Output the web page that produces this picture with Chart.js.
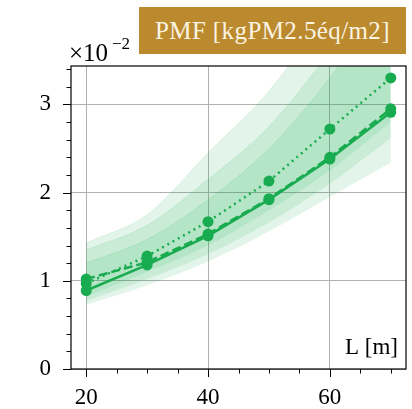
<!DOCTYPE html>
<html lang="fr">
<head>
    <meta charset="UTF-8">
    <title>PMF</title>
    <style>
        body {
            margin: 0;
            background: #ffffff;
        }
        .wrap {
            position: relative;
            width: 412px;
            height: 409px;
        }
        .titre {
            position: absolute;
            left: 139px;
            top: 7px;
            width: 267px;
            height: 47px;
            background-color: #bb8a2f;
            color: #fbf4e2;
            font-family: "Liberation Serif", serif;
            font-size: 25px;
            line-height: 47px;
            text-align: center;
            letter-spacing: 0.4px;
        }
    </style>
</head>
<body>
    <div class="wrap">
        <canvas id="graficoPMF" width="412" height="409"></canvas>
        <div class="titre">PMF [kgPM2.5éq/m2]</div>
    </div>

    <script src="https://cdn.jsdelivr.net/npm/chart.js"></script>
    <script>
        // valeurs en unités de 1e-2
        const longueurs = [20, 30, 40, 50, 60, 70];
        const serieContinue = [0.89, 1.18, 1.51, 1.92, 2.38, 2.91];
        const serieTirets = [1.02, 1.21, 1.53, 1.93, 2.40, 2.95];
        const seriePointillee = [0.97, 1.28, 1.67, 2.13, 2.72, 3.30];

        const basContinue = [0.73, 0.95, 1.22, 1.56, 1.95, 2.34];
        const hautContinue = [1.20, 1.47, 1.92, 2.50, 3.30, 4.30];
        const basTirets = [0.77, 1.02, 1.30, 1.66, 2.10, 2.62];
        const hautTirets = [1.35, 1.63, 2.15, 2.75, 3.60, 4.60];
        const basPointillee = [0.82, 1.10, 1.40, 1.80, 2.25, 2.80];
        const hautPointillee = [1.43, 1.75, 2.45, 3.15, 4.10, 5.20];

        const ticksX = [20, 25, 30, 35, 40, 45, 50, 55, 60, 65, 70];
        const ticksY = [0, 0.2, 0.4, 0.6, 0.8, 1, 1.2, 1.4, 1.6, 1.8, 2, 2.2, 2.4, 2.6, 2.8, 3, 3.2, 3.4];
        const majeursX = [20, 40, 60];
        const majeursY = [0, 1, 2, 3];

        const vert = '#19ab4f';
        const vertBande = 'rgba(25, 171, 79, 0.12)';
        const police = '"Liberation Serif", serif';

        const pts = vals => vals.map((v, i) => ({ x: longueurs[i], y: v }));

        function bande(bas, haut) {
            return [
                { data: pts(bas), borderWidth: 0, pointRadius: 0, fill: false, order: 10,
                  cubicInterpolationMode: 'monotone' },
                { data: pts(haut), borderWidth: 1, borderColor: vertBande, backgroundColor: vertBande,
                  pointRadius: 0, fill: '-1', order: 10, cubicInterpolationMode: 'monotone' }
            ];
        }

        function ligne(vals, tirets) {
            return {
                data: pts(vals), borderColor: vert, borderWidth: 2.5, borderDash: tirets,
                pointRadius: 5.5, pointBackgroundColor: vert, pointBorderWidth: 0,
                fill: false, order: 0
            };
        }

        const majeur = (v, liste) => liste.some(m => Math.abs(m - v) < 1e-6);

        // ticks, cadre et textes dans le graphique
        const decor = {
            id: 'decor',
            afterDraw(chart) {
                const ctx = chart.ctx;
                const a = chart.chartArea;
                const sx = chart.scales.x;
                const sy = chart.scales.y;
                ctx.save();
                ctx.strokeStyle = '#000';
                ctx.lineWidth = 1.2;
                ctx.strokeRect(a.left, a.top, a.right - a.left, a.bottom - a.top);
                ctx.lineWidth = 1;
                ctx.beginPath();
                ticksX.forEach(v => {
                    const px = Math.round(sx.getPixelForValue(v)) + 0.5;
                    ctx.moveTo(px, a.bottom);
                    ctx.lineTo(px, a.bottom + (majeur(v, majeursX) ? 8 : 4.5));
                });
                ticksY.forEach(v => {
                    const py = Math.round(sy.getPixelForValue(v)) + 0.5;
                    ctx.moveTo(a.left, py);
                    ctx.lineTo(a.left - (majeur(v, majeursY) ? 8 : 4.5), py);
                });
                ctx.stroke();

                ctx.fillStyle = '#000';
                ctx.textBaseline = 'alphabetic';
                ctx.font = '23px ' + police;
                ctx.textAlign = 'right';
                ctx.fillText('L [m]', 398, 354);
                ctx.textAlign = 'left';
                ctx.font = '25px ' + police;
                ctx.fillText('×10', 69, 61);
                ctx.font = '17px ' + police;
                ctx.fillText('−2', 112, 49);
                ctx.restore();
            }
        };

        const ctx = document.getElementById('graficoPMF').getContext('2d');
        const grafico = new Chart(ctx, {
            type: 'line',
            data: {
                datasets: [
                    ...bande(basContinue, hautContinue),
                    ...bande(basTirets, hautTirets),
                    ...bande(basPointillee, hautPointillee),
                    ligne(serieContinue, []),
                    ligne(serieTirets, [9, 4]),
                    ligne(seriePointillee, [2, 4])
                ]
            },
            options: {
                responsive: false,
                animation: false,
                events: [],
                layout: { padding: { top: 66, right: 6, left: 0, bottom: 0 } },
                plugins: { legend: { display: false }, tooltip: { enabled: false } },
                scales: {
                    x: {
                        type: 'linear', min: 17.5, max: 72.5,
                        afterFit: s => { s.height = 40; },
                        afterBuildTicks: s => { s.ticks = ticksX.map(v => ({ value: v })); },
                        grid: {
                            drawTicks: false,
                            color: c => majeur(c.tick.value, majeursX) ? '#b0b0b0' : 'rgba(0,0,0,0)',
                            lineWidth: 1
                        },
                        border: { display: false },
                        ticks: {
                            padding: 15, color: '#000', maxRotation: 0, autoSkip: false,
                            font: { family: police, size: 23 },
                            callback: v => majeur(v, majeursX) ? String(v) : ''
                        }
                    },
                    y: {
                        min: 0, max: 3.435,
                        afterFit: s => { s.width = 71; },
                        afterBuildTicks: s => { s.ticks = ticksY.map(v => ({ value: v })); },
                        grid: {
                            drawTicks: false,
                            color: c => majeur(c.tick.value, majeursY) ? '#b0b0b0' : 'rgba(0,0,0,0)',
                            lineWidth: 1
                        },
                        border: { display: false },
                        ticks: {
                            padding: 20, color: '#000', autoSkip: false,
                            font: { family: police, size: 23 },
                            callback: v => majeur(v, majeursY) ? String(Math.round(v)) : ''
                        }
                    }
                }
            },
            plugins: [decor]
        });
    </script>
</body>
</html>
